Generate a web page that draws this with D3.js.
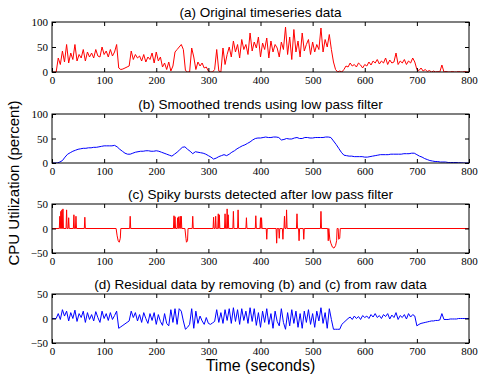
<!DOCTYPE html>
<html>
<head>
<meta charset="utf-8">
<script src="https://cdn.jsdelivr.net/npm/d3@7"></script>
<style>
  body { margin: 0; background: #fff; }
  svg { display: block; }
</style>
</head>
<body>
<div id="chart"></div>
<script>
// (a) raw cpu utilization, one value every 4 s from 0 to 800
var rawStep = 4;
var rawValues = [
  0, 0, 0, 28, 15, 42, 20, 55, 18, 38,
  25, 55, 22, 35, 28, 45, 22, 40, 30, 38,
  28, 45, 32, 30, 50, 35, 42, 30, 45, 32,
  40, 55, 8, 5, 6, 8, 10, 12, 42, 25,
  35, 28, 32, 22, 35, 20, 30, 25, 38, 18,
  40, 22, 30, 10, 18, 5, 20, 2, 12, 40,
  45, 50, 55, 45, 3, 0, 0, 48, 30, 5,
  20, 12, 18, 8, 10, 2, 0, 0, 5, 45,
  2, 0, 48, 15, 35, 50, 30, 62, 40, 55,
  28, 65, 45, 55, 35, 78, 42, 60, 48, 70,
  30, 58, 45, 68, 28, 62, 40, 55, 48, 30,
  60, 45, 90, 35, 70, 25, 85, 40, 62, 30,
  78, 42, 55, 65, 35, 60, 40, 55, 45, 88,
  40, 65, 50, 75, 45, 20, 5, 0, 2, 0,
  5, 12, 10, 18, 12, 15, 10, 18, 14, 8,
  15, 12, 20, 14, 22, 18, 25, 16, 22, 18,
  28, 15, 24, 18, 20, 38, 15, 22, 18, 25,
  15, 22, 18, 28, 20, 5, 3, 8, 2, 5,
  1, 3, 0, 2, 0, 1, 0, 14, 0, 1,
  0, 0, 1, 0, 0, 1, 0, 0, 1, 0,
  0
];

// (b) low pass filtered trend, every 5 s
var smoothStep = 5;
var smoothValues = [
  0, 0, 0, 2, 5, 12, 18, 21, 24, 26, 28, 29, 30, 30, 31, 31, 32, 32, 33, 34,
  35, 35, 35, 35, 36, 33, 28, 24, 20, 18, 18, 20, 22, 23, 24, 24, 25, 25, 24, 24,
  25, 24, 22, 20, 18, 16, 14, 18, 22, 27, 32, 33, 28, 24, 19, 23, 22, 21, 20, 18,
  15, 12, 8, 10, 13, 15, 17, 15, 18, 22, 25, 29, 32, 35, 37, 40, 43, 47, 50, 51,
  51, 52, 53, 52, 52, 53, 53, 52, 47, 48, 50, 49, 49, 51, 52, 50, 50, 52, 52, 51,
  51, 52, 52, 52, 52, 53, 53, 52, 45, 38, 30, 22, 16, 15, 14, 14, 13, 13, 13, 13,
  12, 12, 13, 14, 15, 16, 17, 17, 17, 17, 18, 18, 18, 18, 18, 19, 19, 19, 20, 20,
  17, 14, 12, 9, 7, 5, 4, 3, 3, 2, 2, 2, 1, 1, 1, 1, 0.5, 0.5, 0, 0, 0
];

// (c) detected spiky bursts, sparse time / value pairs
var spikeTimes = [
  0, 14, 15, 16, 17, 18, 19, 20, 21, 22, 27, 28, 29, 31, 32, 33, 41, 42, 43, 45, 46, 47, 62, 63, 64,
  123, 125, 127, 129, 131, 132,
  149, 150, 151,
  233, 234, 235, 236, 237, 240, 241, 242, 243, 244, 246, 247, 248, 249,
  255, 257, 258, 260, 261,
  269, 270, 271,
  309, 310, 311, 313, 314, 315, 318, 319, 320, 321, 322,
  331, 332, 333, 335, 336, 337, 338, 339, 347, 348, 349, 356, 357, 358,
  372, 373, 374, 390, 391, 392, 399, 400, 401, 402, 403,
  411, 412, 413, 430, 431, 432, 435, 436, 437, 442, 443, 444, 445, 446, 447, 449, 450, 451,
  469, 470, 471, 473, 474, 475, 482, 483, 484,
  515, 516, 517,
  529, 530, 531, 533, 535, 538, 541, 544, 546, 547, 549, 550, 552, 553,
  800
];
var spikeValues = [
  0, 0, 25, 0, 35, 0, 38, 0, 40, 0, 0, 38, 0, 0, 22, 0, 0, 28, 0, 0, 25, 0, 0, 23, 0,
  0, -15, -25, -28, -20, 0,
  0, 25, 0,
  0, 26, 0, 24, 0, 0, 22, 0, 24, 0, 25, 0, 25, 0,
  0, -20, -28, -25, 0,
  0, 25, 0,
  0, 23, 0, 0, 25, 0, 0, 30, 0, 28, 0,
  0, 30, 0, 0, 40, 0, 28, 0, 0, 35, 0, 0, 38, 0,
  0, 22, 0, 0, 26, 0, 0, 22, 0, 22, 0,
  0, -22, 0, 0, -30, 0, 0, -20, 0, 0, -22, 0, 0, 25, 0, 0, 38, 0,
  0, 30, 0, 0, -25, 0, 0, -22, 0,
  0, 35, 0,
  0, -25, 0, -22, -30, -38, -40, -35, -25, 0, 0, -22, -20, 0,
  0
];

// (d) residual after removing trend and spikes, every 4 s
var residualStep = 4;
var residualValues = [
  0, 0, 0, 10, -2, 18, 5, 15, -5, 12,
  0, 17, -6, 10, 2, 15, -8, 12, -2, 8,
  -5, 14, 2, -8, 15, 0, 10, -4, 12, -2,
  6, 15, -20, -17, -14, -11, -8, -5, 15, 2,
  12, -5, 8, -8, 12, 0, -10, 10, -4, 12,
  -12, 8, -6, -14, 10, -10, -15, 18, -8, 20,
  -12, 20, 15, -5, -22, -18, -12, 20, -20, 15,
  -10, 5, -5, -12, 2, -10, -12, -9, -6, 18,
  -8, 12, -10, 18, -4, 20, -10, 22, -6, 18,
  -12, 20, -4, 15, -10, 22, -6, 20, -14, 12,
  -18, 15, -8, 20, -12, 10, -20, 15, -6, -15,
  20, -8, -22, 12, -15, 18, -10, 15, -18, 10,
  -20, 15, -8, 18, -12, 10, -18, 15, -5, 22,
  -10, 12, -20, 20, -2, -22, -22, -22, -22, -12,
  -8, -4, 0, 3, -2, 5, 0, 4, -2, 6,
  2, 5, 0, 8, 3, 10, 2, 6, 0, 8,
  4, 10, -1, 7, 2, 12, -2, 6, 2, 8,
  -1, 10, 3, 8, 5, -15, -12, -10, -9, -8,
  -7, -6, -5, -5, -4, -4, -3, 10, -2, -2,
  -2, -1, -1, -1, -1, 0, 0, 0, 0, 0,
  0
];

var panelTitles = [
  "(a) Original timeseries data",
  "(b) Smoothed trends using low pass filter",
  "(c) Spiky bursts detected after low pass filter",
  "(d) Residual data by removing (b) and (c) from raw data"
];
var xTicks = [0, 100, 200, 300, 400, 500, 600, 700, 800];
var yTicksPos = [0, 50, 100];
var yTicksSym = [-50, 0, 50];

function toPoints(values, step) {
  return values.map(function(v, i) { return [i * step, v]; });
}

var width = 478, height = 377;
var left = 52, right = 469;
var panels = [
  { title: panelTitles[0], data: toPoints(rawValues, rawStep), color: "#ff0000", domain: [0, 100], ticks: yTicksPos, top: 22, bottom: 72 },
  { title: panelTitles[1], data: toPoints(smoothValues, smoothStep), color: "#0000ff", domain: [0, 100], ticks: yTicksPos, top: 114, bottom: 163 },
  { title: panelTitles[2], data: spikeTimes.map(function(t, i) { return [t, spikeValues[i]]; }), color: "#ff0000", domain: [-50, 50], ticks: yTicksSym, top: 204, bottom: 253 },
  { title: panelTitles[3], data: toPoints(residualValues, residualStep), color: "#0000ff", domain: [-50, 50], ticks: yTicksSym, top: 294, bottom: 343 }
];

var svg = d3.select("#chart").append("svg")
  .attr("width", width)
  .attr("height", height);

var x = d3.scaleLinear().domain([0, 800]).range([left, right]);
var tickFont = "'Liberation Serif', 'DejaVu Serif', serif";
var textFont = "'Liberation Sans', Arial, sans-serif";

panels.forEach(function(p) {
  var y = d3.scaleLinear().domain(p.domain).range([p.bottom, p.top]);
  var g = svg.append("g");

  // clip so the line stays inside the frame
  var clipId = "clip" + p.top;
  g.append("clipPath").attr("id", clipId)
    .append("rect")
    .attr("x", left).attr("y", p.top)
    .attr("width", right - left).attr("height", p.bottom - p.top);

  var line = d3.line()
    .x(function(d) { return x(d[0]); })
    .y(function(d) { return y(d[1]); });

  g.append("path")
    .datum(p.data)
    .attr("clip-path", "url(#" + clipId + ")")
    .attr("fill", "none")
    .attr("stroke", p.color)
    .attr("stroke-width", 1)
    .attr("stroke-linejoin", "round")
    .attr("d", line);

  // ticks on all four sides, pointing in
  var axes = [
    { axis: d3.axisBottom(x).tickValues(xTicks).tickFormat(d3.format("d")), t: "translate(0," + p.bottom + ")" },
    { axis: d3.axisTop(x).tickValues(xTicks).tickFormat(""), t: "translate(0," + p.top + ")" },
    { axis: d3.axisLeft(y).tickValues(p.ticks).tickFormat(d3.format("d")), t: "translate(" + left + ",0)" },
    { axis: d3.axisRight(y).tickValues(p.ticks).tickFormat(""), t: "translate(" + right + ",0)" }
  ];
  axes.forEach(function(a) {
    var ag = g.append("g")
      .attr("transform", a.t)
      .call(a.axis.tickSizeInner(-4).tickSizeOuter(0).tickPadding(4));
    ag.select(".domain").remove();
    ag.selectAll("line").attr("stroke", "#000");
    ag.selectAll("text")
      .attr("font-family", tickFont)
      .attr("font-size", 11)
      .attr("fill", "#000");
  });

  g.append("rect")
    .attr("x", left).attr("y", p.top)
    .attr("width", right - left).attr("height", p.bottom - p.top)
    .attr("fill", "none")
    .attr("stroke", "#000")
    .attr("stroke-width", 1);

  g.append("text")
    .attr("x", (left + right) / 2)
    .attr("y", p.top - 5)
    .attr("text-anchor", "middle")
    .attr("font-family", textFont)
    .attr("font-size", 13.5)
    .text(p.title);
});

svg.append("text")
  .attr("transform", "translate(19,183) rotate(-90)")
  .attr("text-anchor", "middle")
  .attr("font-family", textFont)
  .attr("font-size", 15)
  .text("CPU Utilization (percent)");

svg.append("text")
  .attr("x", (left + right) / 2)
  .attr("y", 371)
  .attr("text-anchor", "middle")
  .attr("font-family", textFont)
  .attr("font-size", 16)
  .text("Time (seconds)");
</script>
</body>
</html>
